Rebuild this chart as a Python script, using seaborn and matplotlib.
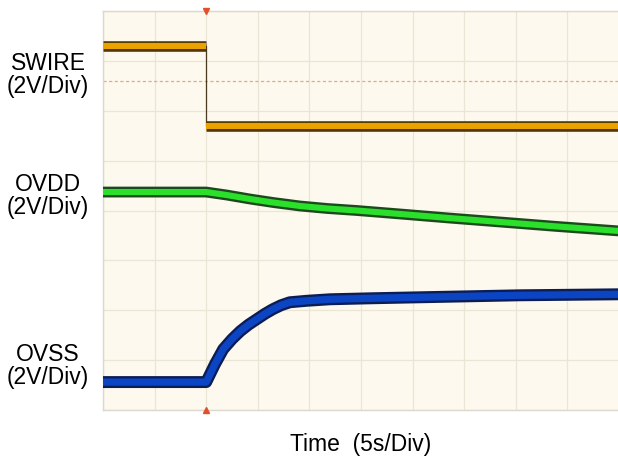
"""Scope capture: SWIRE / OVDD / OVSS power-down sequence."""

import matplotlib
matplotlib.use("Agg")
import matplotlib.pyplot as plt
import matplotlib.patheffects as pe
import pandas as pd
import seaborn as sns

# ---- data (screen divisions: x 0..10, y 0..8) ----
swire_t = [0.0, 2.0, 2.0, 10.0]
swire_v = [7.30, 7.30, 5.70, 5.70]

ovdd_t = [0.0, 2.0, 2.40, 2.85, 3.30, 3.82, 4.35, 4.92, 5.76, 6.70, 7.69, 8.80, 10.0]
ovdd_v = [4.37, 4.37, 4.31, 4.23, 4.16, 4.09, 4.04, 4.00, 3.93, 3.85, 3.77, 3.68, 3.59]

ovss_t = [0.0, 2.0, 2.17, 2.33, 2.50, 2.66, 2.82, 2.98, 3.14, 3.29, 3.45, 3.62, 3.95, 4.40, 5.20, 6.14, 8.08, 10.0]
ovss_v = [0.56, 0.56, 0.92, 1.22, 1.42, 1.58, 1.71, 1.82, 1.93, 2.02, 2.10, 2.16, 2.19, 2.22, 2.24, 2.26, 2.30, 2.32]

trigger_level = 6.59
trigger_time = 2.0

labels = ["SWIRE\n(2V/Div)", "OVDD\n(2V/Div)", "OVSS\n(2V/Div)"]
label_px = [75, 196, 366]          # vertical centre of each label block, px from top
xlabel = "Time  (5s/Div)"

sns.set_theme(style="white")
plt.rcParams["font.family"] = ["Liberation Sans", "DejaVu Sans"]

W, H = 618, 460
fig = plt.figure(figsize=(W / 100, H / 100), dpi=100)
ax = fig.add_axes([103 / W, 49 / H, 516 / W, 399 / H])
ax.set_facecolor("#fdf9ee")

# scope graticule
for x in range(0, 11):
    ax.axvline(x, color="#ebe5d6", lw=0.9, zorder=0)
for y in range(0, 9):
    ax.axhline(y, color="#ebe5d6", lw=0.9, zorder=0)
ax.axhline(trigger_level, color="#e9a48a", lw=0.9, ls=(0, (2.5, 2)), zorder=1)

trace_kw = dict(ax=ax, sort=False, estimator=None, zorder=3,
                solid_capstyle="butt", solid_joinstyle="round")

# SWIRE: thin edge through the step, thick bands on the flat parts
sw = pd.DataFrame({"t": swire_t, "v": swire_v})
ax.plot(sw["t"], sw["v"], color="#4a3a20", lw=0.9, zorder=2)
for part in (sw.iloc[:2], sw.iloc[2:]):
    sns.lineplot(data=part, x="t", y="v", color="#eaa200", lw=4.4,
                 path_effects=[pe.Stroke(linewidth=7.6, foreground="#4f3500"), pe.Normal()],
                 **trace_kw)

dd = pd.DataFrame({"t": ovdd_t, "v": ovdd_v})
sns.lineplot(data=dd, x="t", y="v", color="#2be02b", lw=4.4,
             path_effects=[pe.Stroke(linewidth=7.8, foreground="#1c4a1c"), pe.Normal()],
             **trace_kw)

ss = pd.DataFrame({"t": ovss_t, "v": ovss_v})
sns.lineplot(data=ss, x="t", y="v", color="#0b45c4", lw=5.2,
             path_effects=[pe.Stroke(linewidth=8.6, foreground="#0c1d55"), pe.Normal()],
             **trace_kw)

# trigger position markers
ax.plot([trigger_time], [8], marker="v", ms=4, color="#e0502a", clip_on=False, zorder=5)
ax.plot([trigger_time], [0], marker="^", ms=4, color="#e0502a", clip_on=False, zorder=5)

ax.set_xlim(0, 10)
ax.set_ylim(0, 8)
ax.set_xticks([])
ax.set_yticks([])
ax.set_xlabel("")
ax.set_ylabel("")
for s in ax.spines.values():
    s.set_color("#dcd8ce")
    s.set_linewidth(1.0)

for lab, py in zip(labels, label_px):
    fig.text(48 / W, 1 - py / H, lab, ha="center", va="center", fontsize=16.5,
             linespacing=1.05, color="black")

fig.text(361 / W, 1 - 445 / H, xlabel, ha="center", va="center", fontsize=16.5, color="black")

fig.savefig("out.png", dpi=100, facecolor="white")
